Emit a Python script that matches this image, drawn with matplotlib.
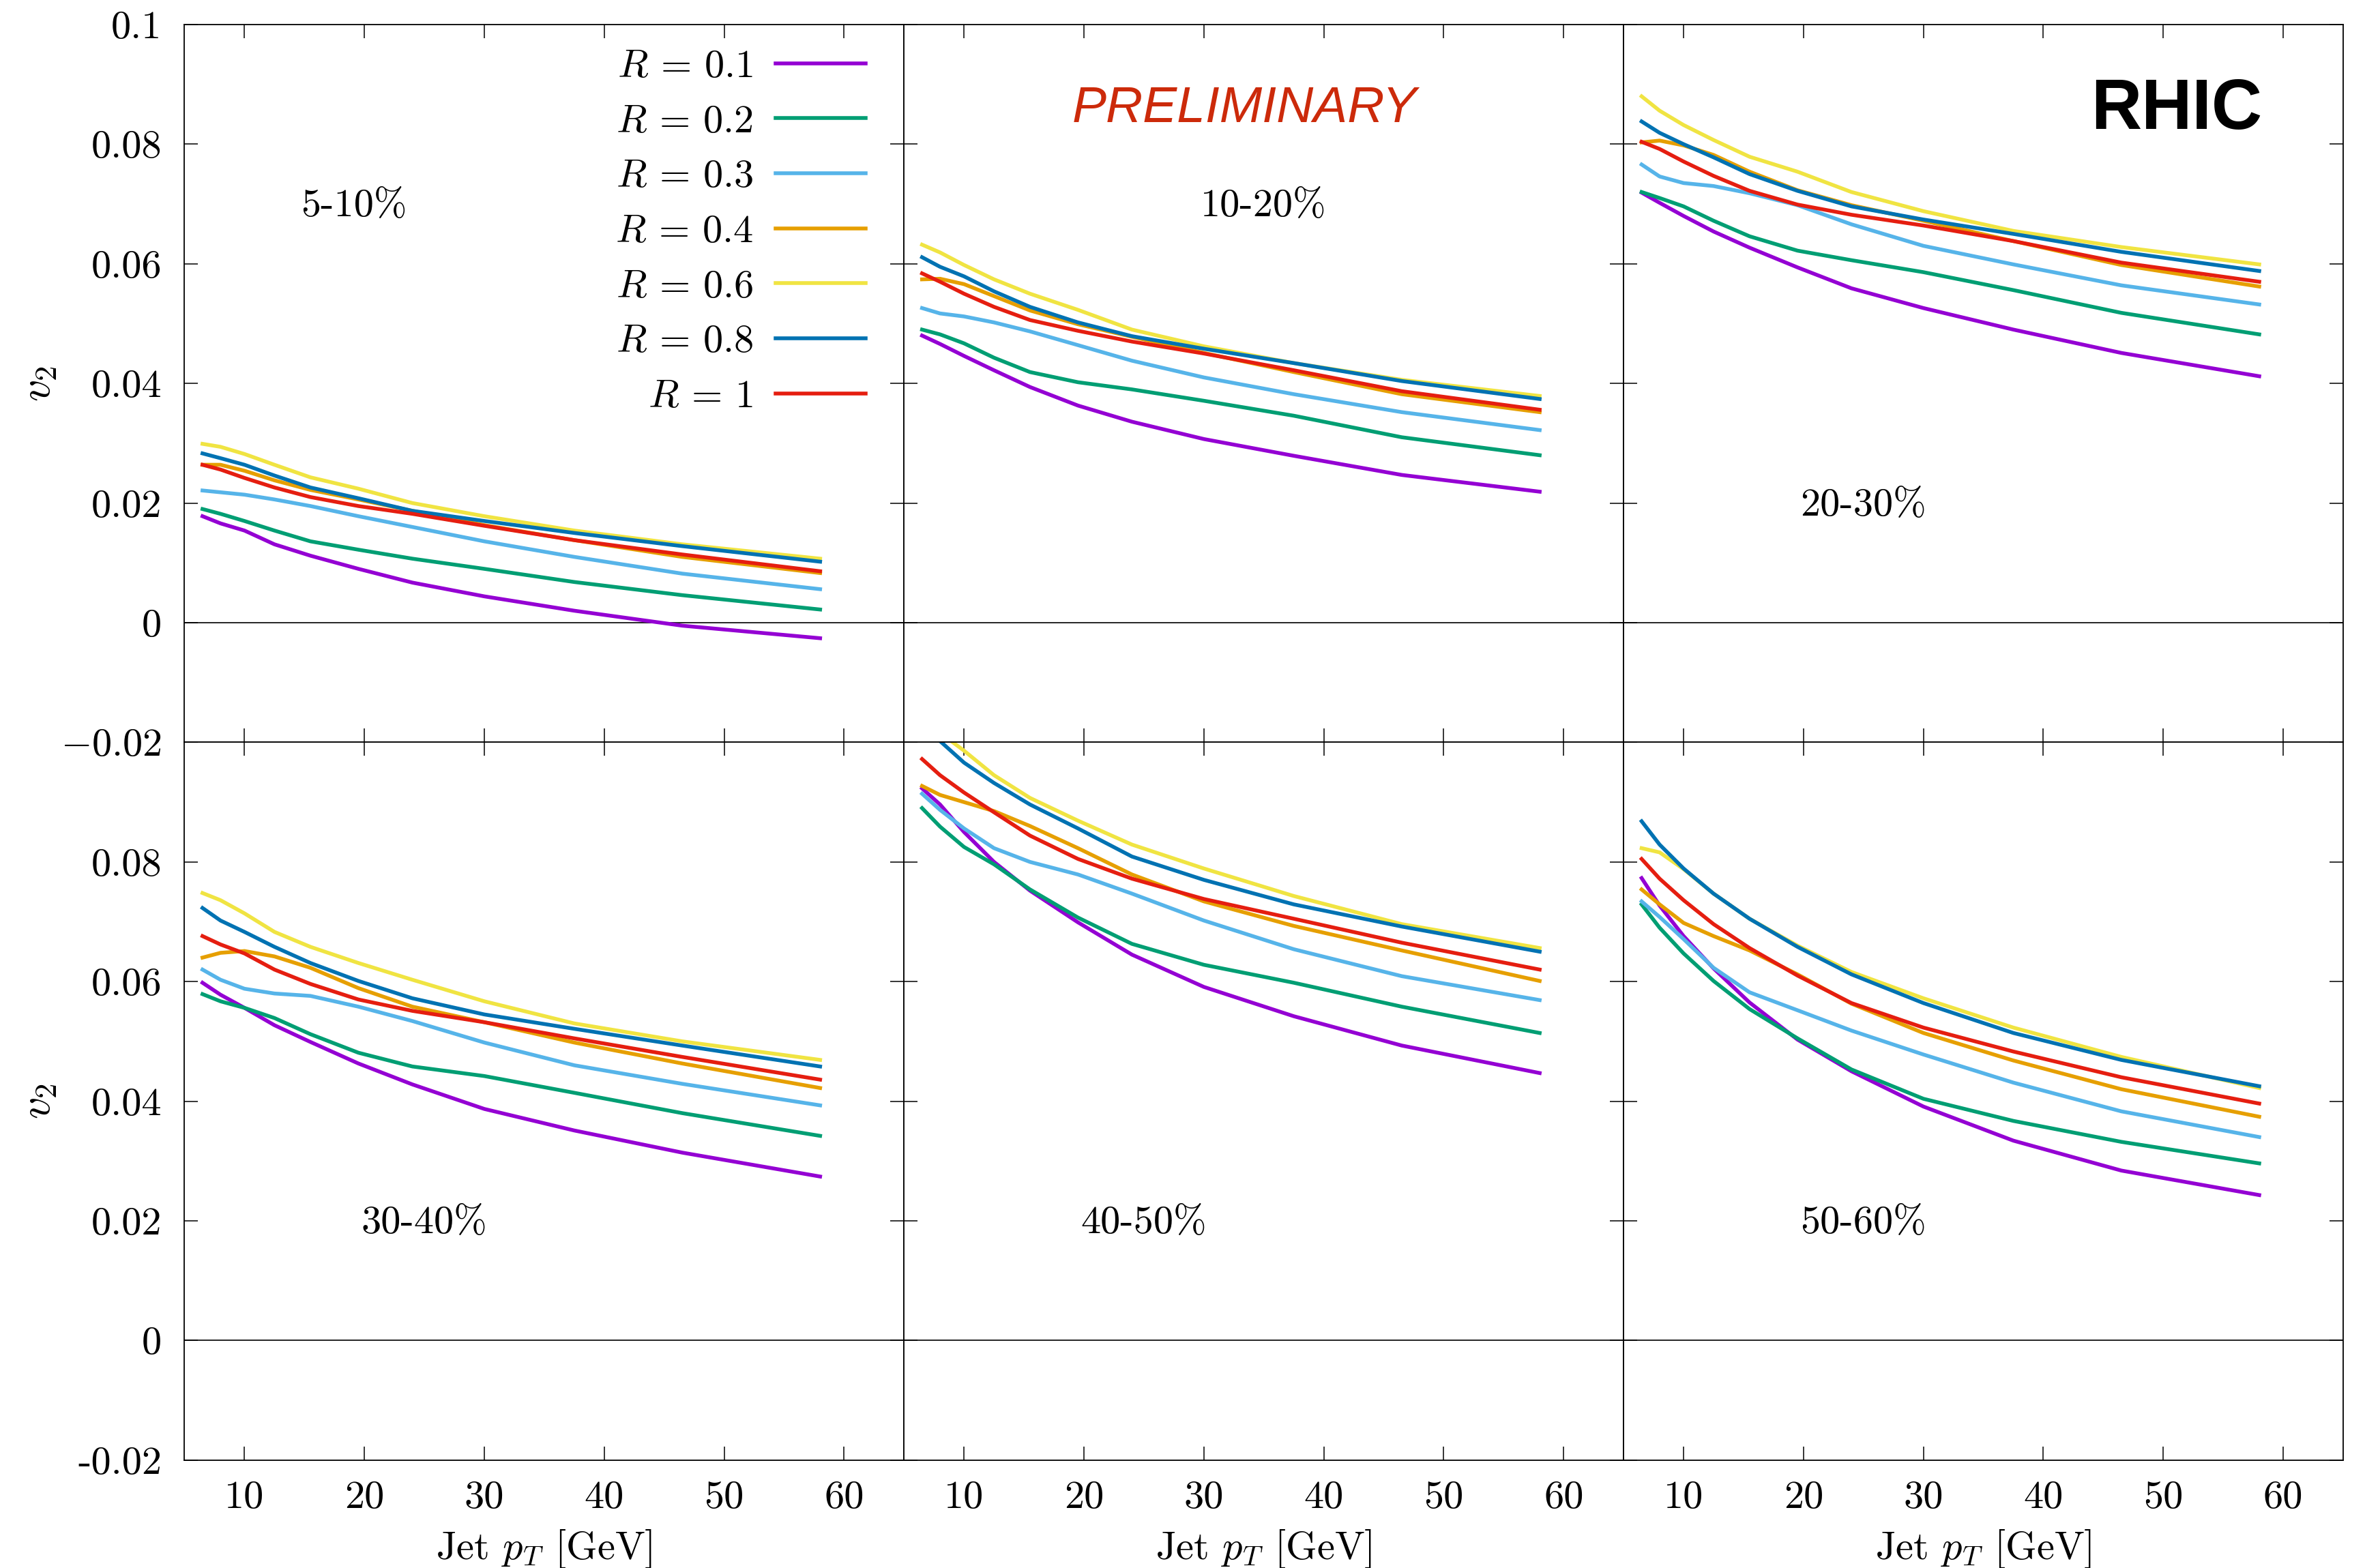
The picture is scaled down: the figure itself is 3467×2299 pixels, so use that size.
import matplotlib
matplotlib.use("Agg")
import matplotlib.pyplot as plt

plt.rcParams['font.family'] = 'cmr10'
plt.rcParams['mathtext.fontset'] = 'cm'
plt.rcParams['axes.unicode_minus'] = False

# jet pT bin centres [GeV]
pt = [6.5, 8, 10, 12.5, 15.5, 19.5, 24, 30, 37.5, 46.5, 58]

radii = ['0.1', '0.2', '0.3', '0.4', '0.6', '0.8', '1']
colors = ['#9400d3', '#009e73', '#56b4e9', '#e69f00', '#f0e442', '#0072b2', '#e51e10']

# v2 vs pT, one row per jet radius (same order as radii)
v2_5_10 = [
    [0.0178, 0.0166, 0.0154, 0.0131, 0.0112, 0.0090, 0.0067, 0.0044, 0.0020, -0.0005, -0.0026],
    [0.0190, 0.0182, 0.0170, 0.0154, 0.0136, 0.0122, 0.0107, 0.0090, 0.0068, 0.0046, 0.0022],
    [0.0221, 0.0218, 0.0214, 0.0206, 0.0195, 0.0178, 0.0160, 0.0136, 0.0110, 0.0082, 0.0056],
    [0.0264, 0.0264, 0.0254, 0.0238, 0.0222, 0.0206, 0.0187, 0.0163, 0.0138, 0.0110, 0.0083],
    [0.0299, 0.0294, 0.0282, 0.0264, 0.0243, 0.0224, 0.0200, 0.0178, 0.0154, 0.0131, 0.0107],
    [0.0283, 0.0275, 0.0264, 0.0246, 0.0226, 0.0208, 0.0187, 0.0170, 0.0150, 0.0128, 0.0102],
    [0.0264, 0.0256, 0.0242, 0.0226, 0.0210, 0.0195, 0.0182, 0.0162, 0.0138, 0.0114, 0.0086],
]
v2_10_20 = [
    [0.0480, 0.0466, 0.0446, 0.0422, 0.0394, 0.0363, 0.0336, 0.0307, 0.0279, 0.0247, 0.0219],
    [0.0490, 0.0482, 0.0467, 0.0443, 0.0419, 0.0402, 0.0390, 0.0371, 0.0346, 0.0310, 0.0280],
    [0.0526, 0.0517, 0.0512, 0.0502, 0.0487, 0.0464, 0.0438, 0.0410, 0.0382, 0.0352, 0.0322],
    [0.0574, 0.0575, 0.0566, 0.0546, 0.0522, 0.0499, 0.0478, 0.0451, 0.0419, 0.0382, 0.0352],
    [0.0632, 0.0619, 0.0598, 0.0574, 0.0550, 0.0523, 0.0490, 0.0462, 0.0434, 0.0406, 0.0379],
    [0.0611, 0.0595, 0.0579, 0.0554, 0.0528, 0.0502, 0.0479, 0.0458, 0.0434, 0.0404, 0.0374],
    [0.0584, 0.0570, 0.0550, 0.0528, 0.0506, 0.0488, 0.0470, 0.0450, 0.0422, 0.0387, 0.0356],
]
v2_20_30 = [
    [0.0719, 0.0702, 0.0680, 0.0654, 0.0627, 0.0594, 0.0559, 0.0526, 0.0490, 0.0451, 0.0412],
    [0.0720, 0.0710, 0.0696, 0.0672, 0.0646, 0.0622, 0.0606, 0.0586, 0.0556, 0.0518, 0.0482],
    [0.0766, 0.0746, 0.0735, 0.0730, 0.0718, 0.0698, 0.0666, 0.0630, 0.0599, 0.0564, 0.0532],
    [0.0803, 0.0806, 0.0798, 0.0782, 0.0754, 0.0723, 0.0698, 0.0672, 0.0638, 0.0598, 0.0562],
    [0.0880, 0.0856, 0.0832, 0.0807, 0.0779, 0.0754, 0.0720, 0.0688, 0.0655, 0.0628, 0.0599],
    [0.0838, 0.0819, 0.0800, 0.0778, 0.0750, 0.0722, 0.0696, 0.0674, 0.0650, 0.0620, 0.0588],
    [0.0804, 0.0792, 0.0771, 0.0747, 0.0722, 0.0699, 0.0682, 0.0664, 0.0638, 0.0602, 0.0570],
]
v2_30_40 = [
    [0.0598, 0.0578, 0.0556, 0.0527, 0.0499, 0.0463, 0.0428, 0.0387, 0.0351, 0.0314, 0.0274],
    [0.0579, 0.0567, 0.0556, 0.0539, 0.0512, 0.0481, 0.0458, 0.0442, 0.0414, 0.0380, 0.0342],
    [0.0620, 0.0603, 0.0588, 0.0580, 0.0576, 0.0558, 0.0534, 0.0498, 0.0460, 0.0429, 0.0393],
    [0.0640, 0.0648, 0.0651, 0.0642, 0.0623, 0.0589, 0.0558, 0.0532, 0.0498, 0.0463, 0.0422],
    [0.0748, 0.0736, 0.0714, 0.0683, 0.0658, 0.0631, 0.0603, 0.0567, 0.0530, 0.0500, 0.0469],
    [0.0723, 0.0702, 0.0683, 0.0658, 0.0631, 0.0601, 0.0572, 0.0545, 0.0521, 0.0493, 0.0458],
    [0.0676, 0.0662, 0.0647, 0.0620, 0.0596, 0.0570, 0.0551, 0.0532, 0.0505, 0.0474, 0.0436],
]
v2_40_50 = [
    [0.0923, 0.0896, 0.0850, 0.0800, 0.0752, 0.0699, 0.0645, 0.0591, 0.0542, 0.0493, 0.0447],
    [0.0890, 0.0859, 0.0825, 0.0796, 0.0754, 0.0707, 0.0663, 0.0628, 0.0598, 0.0558, 0.0514],
    [0.0914, 0.0887, 0.0856, 0.0823, 0.0800, 0.0779, 0.0747, 0.0702, 0.0654, 0.0609, 0.0569],
    [0.0927, 0.0912, 0.0900, 0.0885, 0.0860, 0.0823, 0.0779, 0.0734, 0.0693, 0.0652, 0.0601],
    [0.1040, 0.1016, 0.0986, 0.0945, 0.0907, 0.0869, 0.0829, 0.0789, 0.0743, 0.0696, 0.0656],
    [0.1032, 0.1002, 0.0966, 0.0932, 0.0896, 0.0856, 0.0809, 0.0770, 0.0729, 0.0692, 0.0650],
    [0.0972, 0.0945, 0.0916, 0.0883, 0.0844, 0.0805, 0.0772, 0.0738, 0.0705, 0.0665, 0.0620],
]
v2_50_60 = [
    [0.0773, 0.0727, 0.0676, 0.0622, 0.0565, 0.0503, 0.0450, 0.0391, 0.0334, 0.0284, 0.0243],
    [0.0729, 0.0690, 0.0647, 0.0601, 0.0554, 0.0505, 0.0453, 0.0404, 0.0367, 0.0332, 0.0296],
    [0.0734, 0.0708, 0.0671, 0.0623, 0.0582, 0.0552, 0.0518, 0.0478, 0.0431, 0.0383, 0.0340],
    [0.0754, 0.0729, 0.0698, 0.0676, 0.0652, 0.0612, 0.0563, 0.0514, 0.0468, 0.0420, 0.0374],
    [0.0823, 0.0816, 0.0788, 0.0747, 0.0705, 0.0660, 0.0616, 0.0572, 0.0523, 0.0474, 0.0422],
    [0.0868, 0.0829, 0.0789, 0.0747, 0.0705, 0.0658, 0.0612, 0.0564, 0.0514, 0.0469, 0.0425],
    [0.0805, 0.0772, 0.0736, 0.0696, 0.0656, 0.0610, 0.0564, 0.0523, 0.0483, 0.0440, 0.0396],
]

panels = [v2_5_10, v2_10_20, v2_20_30, v2_30_40, v2_40_50, v2_50_60]
cent_labels = ['5-10%', '10-20%', '20-30%', '30-40%', '40-50%', '50-60%']
# where each centrality tag sits (data coords)
cent_pos = [(19.1, 0.068), (35, 0.068), (25, 0.0179), (25, 0.0179), (25, 0.0179), (25, 0.0179)]

xticks = [10, 20, 30, 40, 50, 60]
yticks = [-0.02, 0, 0.02, 0.04, 0.06, 0.08, 0.1]
ylabels_top = ['$-0.02$', '0', '0.02', '0.04', '0.06', '0.08', '0.1']
ylabels_bottom = ['-0.02', '0', '0.02', '0.04', '0.06', '0.08', '']

fs = 42

fig = plt.figure(figsize=(34.67, 22.99), dpi=100)
axes = fig.subplots(2, 3, gridspec_kw=dict(hspace=0, wspace=0))
fig.subplots_adjust(left=0.07802, right=0.99077, top=0.98434, bottom=0.06885)

for i, ax in enumerate(axes.flat):
    row, col = divmod(i, 3)
    ax.axhline(0, color='black', lw=1.2, zorder=1)
    for r, c, vals in zip(radii, colors, panels[i]):
        ax.plot(pt, vals, color=c, lw=4.0, label=r'$R\,=\,%s$' % r, zorder=2)

    ax.set_xlim(5, 65)
    ax.set_ylim(-0.02, 0.1)
    ax.set_xticks(xticks)
    ax.set_yticks(yticks)
    ax.tick_params(direction='in', length=14.4, width=1.1, top=True, right=True,
                   labelsize=fs, pad=24)
    ax.tick_params(axis='x', pad=22)
    for sp in ax.spines.values():
        sp.set_linewidth(1.3)

    if col == 0:
        ax.set_yticklabels(ylabels_top if row == 0 else ylabels_bottom)
        ax.set_ylabel('$v_2$', fontsize=fs + 4)
        ax.yaxis.set_label_coords(-0.1745, 0.5)
    else:
        ax.set_yticklabels([])
    if row == 1:
        ax.set_xticklabels([str(t) for t in xticks])
        ax.set_xlabel('Jet $p_T$ [GeV]', fontsize=fs)
        ax.xaxis.set_label_coords(0.5, -0.094)
    else:
        ax.set_xticklabels([])

    tx, ty = cent_pos[i]
    ax.text(tx, ty, cent_labels[i], fontsize=fs, ha='center', va='baseline')

axes[0, 0].legend(loc='upper right', bbox_to_anchor=(0.9466, 0.9657), frameon=False,
                  markerfirst=False, fontsize=fs, handlelength=2.26, handletextpad=0.57,
                  labelspacing=0.495, borderpad=0, borderaxespad=0)

axes[0, 1].text(33.4, 0.0837, 'PRELIMINARY', fontsize=54, color='#cc2a0a',
                family='Liberation Sans', style='italic', ha='center', va='baseline')
axes[0, 2].text(51.1, 0.0825, 'RHIC', fontsize=74, color='black',
                family='Liberation Sans', weight='bold', ha='center', va='baseline')

fig.savefig('out.png', dpi=100)
